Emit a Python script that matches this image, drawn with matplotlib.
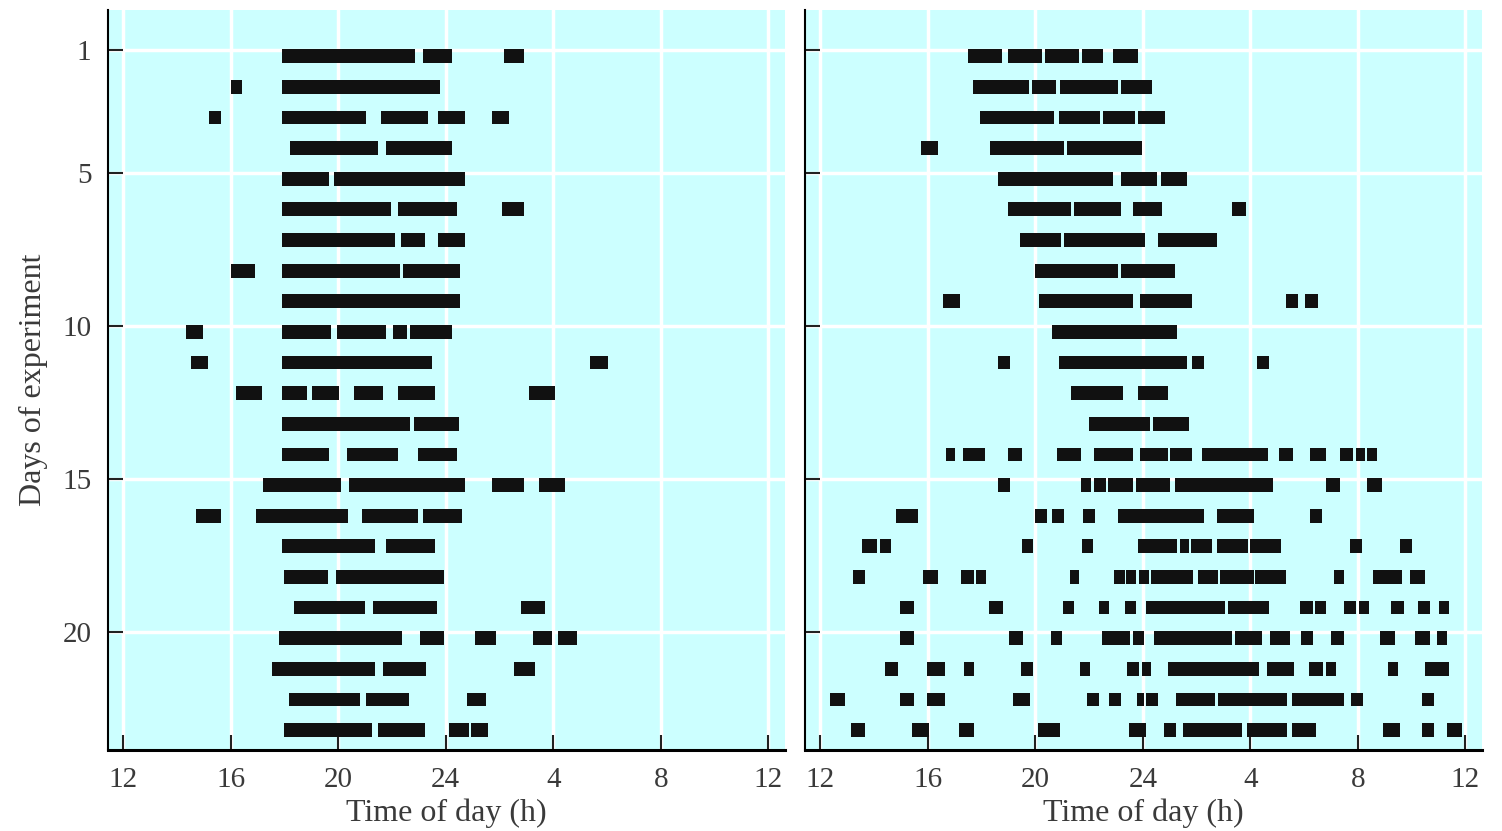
import matplotlib
matplotlib.use("Agg")
import matplotlib.pyplot as plt

# activity bouts (start, end) in hours; 24 = midnight, 28 = 4 h next day
days = list(range(1, 24))

left_bouts = [
    [(17.9, 22.85), (23.15, 24.23), (26.18, 26.9)],
    [(16.0, 16.43), (17.92, 23.77)],
    [(15.17, 15.62), (17.92, 21.02), (21.6, 23.32), (23.7, 24.7), (25.72, 26.35)],
    [(18.2, 21.48), (21.77, 24.23)],
    [(17.92, 19.65), (19.85, 24.7)],
    [(17.92, 21.95), (22.22, 24.4), (26.08, 26.9)],
    [(17.92, 22.12), (22.33, 23.22), (23.7, 24.7)],
    [(16.0, 16.9), (17.92, 22.3), (22.42, 24.52)],
    [(17.92, 24.52)],
    [(14.33, 14.98), (17.92, 19.73), (19.95, 21.77), (22.05, 22.55), (22.68, 24.23)],
    [(14.52, 15.15), (17.92, 23.5), (29.38, 30.02)],
    [(16.18, 17.17), (17.92, 18.82), (19.02, 20.02), (20.58, 21.65), (22.23, 23.58), (27.1, 28.08)],
    [(17.92, 22.67), (22.8, 24.5)],
    [(17.92, 19.65), (20.32, 22.22), (22.97, 24.4)],
    [(17.18, 20.1), (20.4, 24.7), (25.72, 26.9), (27.47, 28.45)],
    [(14.72, 15.62), (16.92, 20.37), (20.87, 22.95), (23.15, 24.6)],
    [(17.92, 21.38), (21.77, 23.6)],
    [(17.98, 19.62), (19.92, 23.93)],
    [(18.35, 21.0), (21.3, 23.67), (26.8, 27.7)],
    [(17.8, 22.37), (23.03, 23.93), (25.07, 25.85), (27.25, 27.97), (28.18, 28.88)],
    [(17.52, 21.37), (21.67, 23.28), (26.52, 27.32)],
    [(18.17, 20.8), (21.03, 22.63), (24.78, 25.48)],
    [(17.98, 21.27), (21.48, 23.22), (24.13, 24.85), (24.95, 25.58)],
]

right_bouts = [
    [(17.48, 18.77), (18.97, 20.23), (20.35, 21.63), (21.72, 22.53), (22.9, 23.8)],
    [(17.68, 19.77), (19.88, 20.78), (20.9, 23.08), (23.2, 24.35)],
    [(17.95, 20.68), (20.88, 22.42), (22.53, 23.72), (23.83, 24.82)],
    [(15.75, 16.37), (18.32, 21.05), (21.17, 23.98)],
    [(18.6, 22.88), (23.17, 24.53), (24.67, 25.63)],
    [(18.97, 21.33), (21.45, 23.17), (23.63, 24.72), (27.3, 27.83)],
    [(19.42, 20.97), (21.08, 24.08), (24.55, 26.75)],
    [(19.97, 23.08), (23.2, 25.18)],
    [(16.58, 17.2), (20.15, 23.62), (23.9, 25.83), (29.32, 29.77), (30.05, 30.5)],
    [(20.6, 25.28)],
    [(18.6, 19.05), (20.88, 25.63), (25.83, 26.28), (28.23, 28.68)],
    [(21.33, 23.27), (23.82, 24.92)],
    [(21.98, 24.27), (24.37, 25.73)],
    [(16.67, 17.02), (17.32, 18.13), (18.97, 19.5), (20.8, 21.7), (22.17, 23.62),
     (23.9, 24.92), (25.0, 25.83), (26.2, 28.67), (29.05, 29.58), (30.23, 30.83),
     (31.33, 31.83), (31.92, 32.25), (32.33, 32.7)],
    [(18.6, 19.05), (21.7, 22.07), (22.17, 22.62), (22.7, 23.63), (23.73, 25.0),
     (25.18, 28.85), (30.8, 31.33), (32.33, 32.88)],
    [(14.83, 15.65), (19.97, 20.42), (20.6, 21.05), (21.78, 22.23), (23.08, 26.28),
     (26.75, 28.12), (30.23, 30.68)],
    [(13.55, 14.1), (14.22, 14.63), (19.5, 19.93), (21.73, 22.15), (23.82, 25.28),
     (25.37, 25.72), (25.8, 26.57), (26.75, 27.92), (28.0, 29.13), (31.72, 32.17),
     (33.55, 34.0)],
    [(13.23, 13.67), (15.8, 16.37), (17.25, 17.72), (17.8, 18.17), (21.28, 21.63),
     (22.93, 23.32), (23.37, 23.75), (23.85, 24.22), (24.32, 25.87), (26.05, 26.78),
     (26.88, 28.13), (28.18, 29.33), (31.13, 31.47), (32.57, 33.65), (33.93, 34.48)],
    [(14.97, 15.5), (18.28, 18.8), (21.02, 21.45), (22.38, 22.73), (23.32, 23.75),
     (24.13, 27.05), (27.15, 28.7), (29.83, 30.33), (30.42, 30.8), (31.5, 31.92),
     (32.03, 32.42), (33.23, 33.73), (34.23, 34.67), (35.03, 35.4)],
    [(14.97, 15.5), (19.02, 19.53), (20.57, 21.0), (22.47, 23.53), (23.62, 24.03),
     (24.4, 27.33), (27.42, 28.45), (28.72, 29.48), (29.9, 30.33), (31.0, 31.47),
     (32.82, 33.38), (34.12, 34.67), (34.95, 35.32)],
    [(14.42, 14.87), (15.97, 16.62), (17.35, 17.72), (19.47, 19.92), (21.67, 22.02),
     (23.4, 23.87), (23.95, 24.3), (24.95, 28.33), (28.62, 29.63), (30.17, 30.7),
     (30.8, 31.17), (33.13, 33.5), (34.5, 35.4)],
    [(12.37, 12.92), (14.97, 15.5), (15.97, 16.62), (19.18, 19.8), (21.93, 22.37),
     (22.73, 23.2), (23.77, 24.03), (24.13, 24.58), (25.22, 26.68), (26.78, 29.35),
     (29.55, 31.47), (31.75, 32.2), (34.4, 34.85)],
    [(13.13, 13.67), (15.42, 16.03), (17.17, 17.72), (20.1, 20.92), (23.5, 24.12),
     (24.77, 25.22), (25.48, 27.7), (27.87, 29.37), (29.55, 30.45), (32.92, 33.55),
     (34.4, 34.85), (35.32, 35.87)],
]

hour_ticks = [12, 16, 20, 24, 28, 32, 36]
hour_labels = ["12", "16", "20", "24", "4", "8", "12"]
day_ticks = [1, 5, 10, 15, 20]

plt.rcParams["font.family"] = ["Liberation Serif", "DejaVu Serif"]

fig = plt.figure(figsize=(15.02, 8.31), dpi=100)
ax_l = fig.add_axes([0.0719, 0.0975, 0.4507, 0.8905])
ax_r = fig.add_axes([0.536, 0.0975, 0.4507, 0.8905])

bar_h = 0.45
bar_shift = 0.2   # bars sit a little below each day's line in the original
txt = "#3a3a3a"
for ax, bouts in [(ax_l, left_bouts), (ax_r, right_bouts)]:
    ax.set_facecolor("#ccffff")
    for day, row in zip(days, bouts):
        ax.broken_barh([(s, e - s) for s, e in row],
                       (day + bar_shift - bar_h / 2, bar_h),
                       facecolors="#111111", edgecolor="none", zorder=3)
    ax.set_xlim(11.43, 36.62)
    ax.set_ylim(23.85, -0.31)
    ax.set_xticks(hour_ticks)
    ax.set_xticklabels(hour_labels, fontsize=21)
    ax.set_yticks(day_ticks)
    ax.grid(True, color="white", lw=2.5, zorder=0)
    ax.set_axisbelow(True)
    for side in ("top", "right"):
        ax.spines[side].set_visible(False)
    ax.spines["left"].set_linewidth(1.5)
    ax.spines["bottom"].set_linewidth(2.2)
    ax.tick_params(axis="both", direction="in", length=11, width=1.5, colors="#222222",
                   labelcolor=txt)
    ax.tick_params(axis="x", pad=12)
    ax.set_xlabel("Time of day (h)", fontsize=23, color=txt, labelpad=4)

ax_l.set_yticklabels([str(d) for d in day_ticks], fontsize=21)
ax_l.tick_params(axis="y", pad=12)
ax_l.set_ylabel("Days of experiment", fontsize=23, color=txt, labelpad=10)
ax_r.set_yticklabels([])

fig.savefig("out.png", dpi=100)
